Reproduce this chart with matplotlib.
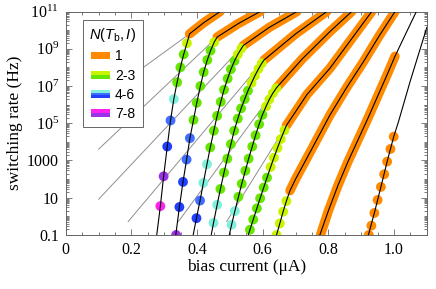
import numpy as np
import matplotlib
matplotlib.use('Agg')
import matplotlib.pyplot as plt
from matplotlib.legend_handler import HandlerBase
from matplotlib.patches import Rectangle
from matplotlib.ticker import FixedLocator, LogLocator, MultipleLocator, NullFormatter


plt.rcParams['font.family'] = ['Liberation Serif', 'DejaVu Serif']
plt.rcParams['mathtext.fontset'] = 'custom'
plt.rcParams['mathtext.it'] = 'Liberation Sans:italic'
plt.rcParams['mathtext.rm'] = 'Liberation Sans'

# one list per curve; rates are stored as log10(rate / Hz)
fit_current = [
    [0.277, 0.288, 0.298, 0.309, 0.319, 0.329, 0.339, 0.349, 0.359, 0.369, 0.377, 0.42, 0.470],
    [0.335, 0.346, 0.357, 0.368, 0.378, 0.389, 0.399, 0.410, 0.420, 0.431, 0.441, 0.452, 0.461, 0.525, 0.592],
    [0.388, 0.398, 0.409, 0.419, 0.430, 0.440, 0.451, 0.461, 0.472, 0.482, 0.493, 0.503, 0.514, 0.524, 0.535, 0.541, 0.62, 0.704],
    [0.443, 0.450, 0.461, 0.471, 0.482, 0.492, 0.503, 0.513, 0.524, 0.534, 0.545, 0.555, 0.566, 0.576, 0.587, 0.597, 0.604, 0.70, 0.795],
    [0.498, 0.505, 0.515, 0.526, 0.536, 0.547, 0.557, 0.568, 0.578, 0.589, 0.599, 0.610, 0.620, 0.631, 0.641, 0.645, 0.72, 0.805, 0.871],
    [0.556, 0.561, 0.571, 0.582, 0.592, 0.603, 0.613, 0.624, 0.634, 0.645, 0.655, 0.666, 0.672, 0.735, 0.805, 0.932],
    [0.642, 0.652, 0.662, 0.672, 0.683, 0.70, 0.748, 0.805, 0.855, 0.907, 0.955, 1.003],
    [0.774, 0.80, 0.83, 0.86, 0.89, 0.92, 0.95, 0.98, 1.003, 1.03, 1.068],
    [0.922, 0.940, 0.960, 0.979, 0.999, 1.013, 1.05, 1.1],
]
fit_log_rate = [
    [-1.0, 0.55, 2.15, 3.75, 5.15, 6.3, 7.2, 8.0, 8.7, 9.3, 9.8, 10.4, 11.0],
    [-1.0, 0.5, 1.85, 3.05, 4.2, 5.18, 6.1, 7.0, 7.75, 8.4, 8.9, 9.35, 9.63, 10.35, 11.0],
    [-1.0, -0.1, 0.85, 1.8, 2.8, 3.7, 4.6, 5.4, 6.15, 6.8, 7.4, 7.9, 8.35, 8.7, 9.02, 9.18, 10.15, 11.0],
    [-1.0, -0.35, 0.62, 1.47, 2.35, 3.1, 3.88, 4.6, 5.25, 5.8, 6.3, 6.75, 7.17, 7.55, 7.92, 8.22, 8.4, 9.8, 11.0],
    [-1.0, -0.45, 0.28, 1.05, 1.75, 2.45, 3.1, 3.75, 4.35, 4.95, 5.45, 5.9, 6.28, 6.62, 6.88, 6.97, 8.45, 9.93, 11.0],
    [-1.0, -0.72, -0.17, 0.43, 0.97, 1.55, 2.08, 2.65, 3.15, 3.68, 4.15, 4.62, 4.88, 6.55, 7.96, 11.0],
    [-1.0, -0.38, 0.25, 0.82, 1.38, 2.0, 3.57, 5.45, 6.9, 8.31, 9.7, 11.0],
    [-1.0, 0.3, 1.7, 2.95, 4.1, 5.25, 6.45, 7.65, 8.6, 9.6, 11.0],
    [-1.0, 0.18, 1.58, 2.94, 4.28, 5.05, 7.3, 10.15],
]

# measured points on the steep part, with N(Tb, I)
dot_current = [
    [0.288, 0.298, 0.309, 0.319, 0.329, 0.339, 0.349, 0.359, 0.369],
    [0.336, 0.346, 0.357, 0.368, 0.378, 0.389, 0.399, 0.410, 0.420, 0.431, 0.441, 0.452],
    [0.398, 0.409, 0.419, 0.430, 0.440, 0.451, 0.461, 0.472, 0.482, 0.493, 0.503, 0.514, 0.524, 0.535],
    [0.450, 0.461, 0.471, 0.482, 0.492, 0.503, 0.513, 0.524, 0.534, 0.545, 0.555, 0.566, 0.576, 0.587, 0.597],
    [0.505, 0.515, 0.526, 0.536, 0.547, 0.557, 0.568, 0.578, 0.589, 0.599, 0.610, 0.620, 0.631, 0.641],
    [0.561, 0.571, 0.582, 0.592, 0.603, 0.613, 0.624, 0.634, 0.645, 0.655, 0.666],
    [0.642, 0.652, 0.662, 0.672],
    [],
    [0.923, 0.931, 0.940, 0.950, 0.960, 0.970, 0.979, 0.989, 0.999],
]
dot_log_rate = [
    [0.55, 2.15, 3.75, 5.15, 6.3, 7.2, 8.0, 8.7, 9.3],
    [-1.0, 0.5, 1.85, 3.05, 4.2, 5.18, 6.1, 7.0, 7.75, 8.4, 8.9, 9.35],
    [-0.1, 0.85, 1.8, 2.8, 3.7, 4.6, 5.4, 6.15, 6.8, 7.4, 7.9, 8.35, 8.7, 9.02],
    [-0.35, 0.62, 1.47, 2.35, 3.1, 3.88, 4.6, 5.25, 5.8, 6.3, 6.75, 7.17, 7.55, 7.92, 8.22],
    [-0.45, 0.28, 1.05, 1.75, 2.45, 3.1, 3.75, 4.35, 4.95, 5.45, 5.9, 6.28, 6.62, 6.88],
    [-0.72, -0.17, 0.43, 0.97, 1.55, 2.08, 2.65, 3.15, 3.68, 4.15, 4.62],
    [-1.0, -0.38, 0.25, 0.82],
    [],
    [-1.0, -0.5, 0.18, 0.88, 1.58, 2.26, 2.94, 3.62, 4.28],
]
dot_n = [
    [8, 7, 6, 5, 4, 3, 3, 3, 2],
    [7, 6, 6, 5, 5, 3, 3, 3, 3, 3, 3, 2],
    [6, 5, 4, 4, 3, 3, 3, 3, 3, 3, 3, 3, 2, 2],
    [4, 4, 3, 3, 3, 3, 3, 3, 3, 3, 3, 2, 2, 2, 2],
    [4, 4, 3, 3, 3, 3, 3, 3, 3, 3, 2, 2, 2, 2],
    [3, 3, 3, 3, 3, 3, 2, 2, 2, 2, 2],
    [2, 2, 2, 2],
    [],
    [1, 1, 1, 1, 1, 1, 1, 1, 1],
]

# dense N = 1 points, close enough to form a band
band_current = [
    [0.377, 0.42, 0.470],
    [0.461, 0.525, 0.592],
    [0.541, 0.62, 0.704],
    [0.604, 0.70, 0.795],
    [0.645, 0.72, 0.805, 0.871],
    [0.672, 0.735, 0.805, 0.932],
    [0.683, 0.70, 0.748, 0.805, 0.855, 0.907, 0.955, 1.003],
    [0.776, 0.80, 0.83, 0.86, 0.89, 0.92, 0.95, 0.98, 1.003],
]
band_log_rate = [
    [9.8, 10.4, 11.0],
    [9.63, 10.35, 11.0],
    [9.18, 10.15, 11.0],
    [8.4, 9.8, 11.0],
    [6.97, 8.45, 9.93, 11.0],
    [4.88, 6.55, 7.96, 11.0],
    [1.38, 2.0, 3.57, 5.45, 6.9, 8.31, 9.7, 11.0],
    [-1.0, 0.3, 1.7, 2.95, 4.1, 5.25, 6.45, 7.65, 8.6],
]

# thin grey lines running into the kinks
grey_current = [[0.1, 0.377], [0.1, 0.461], [0.1, 0.541], [0.19, 0.604], [0.343, 0.645], [0.49, 0.672]]
grey_log_rate = [[6.26, 9.8], [3.61, 9.63], [0.92, 9.18], [-0.28, 8.4], [-0.28, 6.97], [-0.28, 4.88]]

n_colors = {1: '#ff8a00', 2: '#c8f400', 3: '#66e600', 4: '#80f0dc',
            5: '#3d6eff', 6: '#1f40ff', 7: '#9a32e6', 8: '#ff22ee'}
legend_labels = ['1', '2-3', '4-6', '7-8']
legend_groups = [[1], [2, 3], [4, 5, 6], [8, 7]]

ytick_vals = [0.1, 10, 1000, 1e5, 1e7, 1e9, 1e11]
ytick_text = ['0.1', '10', '1000', r'$\mathregular{10^{5}}$', r'$\mathregular{10^{7}}$',
              r'$\mathregular{10^{9}}$', r'$\mathregular{10^{11}}$']
xtick_vals = [0, 0.2, 0.4, 0.6, 0.8, 1.0]
xtick_text = ['0', '0.2', '0.4', '0.6', '0.8', '1.0']


class Swatch:
    def __init__(self, colors):
        self.colors = colors


class SwatchHandler(HandlerBase):
    def create_artists(self, legend, orig_handle, xdescent, ydescent,
                       width, height, fontsize, trans):
        n = len(orig_handle.colors)
        total = height * 0.8
        y0 = -ydescent + (height - total) / 2
        h = total / n
        out = []
        for i, c in enumerate(orig_handle.colors):
            out.append(Rectangle((-xdescent, y0 + total - (i + 1) * h), width, h,
                                 facecolor=c, edgecolor='none', transform=trans))
        return out


fig = plt.figure(figsize=(4.36, 2.89), dpi=100)
ax = fig.add_axes([0.151, 0.187, 0.828, 0.773])
ax.set_yscale('log')

for gx, gy in zip(grey_current, grey_log_rate):
    ax.plot(gx, 10 ** np.array(gy), color='#8f8f8f', lw=0.7, zorder=1)

for bx, by in zip(band_current, band_log_rate):
    ax.plot(bx, 10 ** np.array(by), color=n_colors[1], lw=6.8,
            solid_capstyle='round', solid_joinstyle='round', zorder=2)

for dx, dy, dn in zip(dot_current, dot_log_rate, dot_n):
    if not dx:
        continue
    ax.scatter(dx, 10 ** np.array(dy), s=50, c=[n_colors[k] for k in dn],
               edgecolors='none', zorder=2.5)

for fx, fy in zip(fit_current, fit_log_rate):
    ax.plot(fx, 10 ** np.array(fy), color='black', lw=0.8, zorder=3)

ax.set_xlim(0, 1.1)
ax.set_ylim(0.1, 1e11)

ax.set_xticks(xtick_vals)
ax.set_xticklabels(xtick_text)
ax.xaxis.set_minor_locator(MultipleLocator(0.05))
ax.yaxis.set_major_locator(FixedLocator(ytick_vals))
ax.set_yticklabels(ytick_text)
ax.yaxis.set_minor_locator(LogLocator(base=10, subs=np.arange(1, 10), numticks=30))
ax.yaxis.set_minor_formatter(NullFormatter())

frame = '#666666'
for s in ax.spines.values():
    s.set_color(frame)
    s.set_linewidth(0.7)
ax.tick_params(which='both', direction='in', top=True, right=True, color=frame, width=0.6)
ax.tick_params(which='major', length=4, labelsize=11.5, pad=5)
ax.tick_params(which='minor', length=2.5)

ax.set_xlabel('bias current (μA)', fontsize=12.5, labelpad=1)
ax.set_ylabel('switching rate (Hz)', fontsize=12.5, labelpad=3)

handles = [Swatch([n_colors[k] for k in g]) for g in legend_groups]
leg = ax.legend(handles, legend_labels, handler_map={Swatch: SwatchHandler()},
                title=r'$N(T_{\rm b},I)$', loc='upper left',
                bbox_to_anchor=(0.048, 0.963), borderaxespad=0,
                fancybox=False, edgecolor=frame, framealpha=1,
                prop={'family': 'Liberation Sans', 'size': 10}, title_fontsize=10.5,
                handlelength=1.4, handletextpad=0.35, labelspacing=0.38, borderpad=0.45)
leg.get_frame().set_linewidth(0.7)
leg.set_zorder(5)

fig.savefig('out.png', dpi=100)
